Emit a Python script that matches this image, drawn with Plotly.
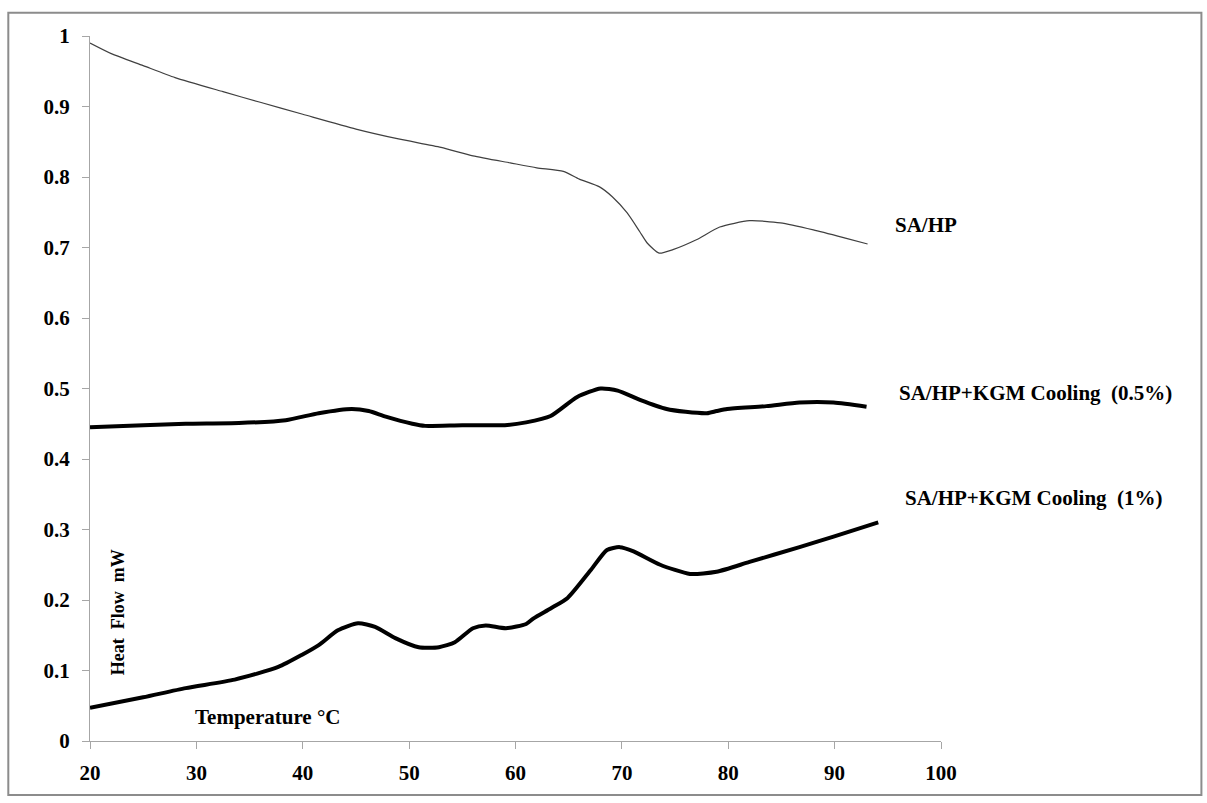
import plotly.graph_objects as go

# Temperature (°C) and heat flow (mW) for each DSC cooling run
temp_sahp = [20, 22, 25, 28, 32.5, 36, 40, 45, 49, 53, 56, 59.5, 62, 64.5, 66, 67.9,
             69.1, 70.5, 71.7, 72.4, 73.5, 74.8, 77, 79.2, 82, 84.9, 88, 91.1, 93.1]
flow_sahp = [0.990, 0.975, 0.958, 0.941, 0.921, 0.906, 0.889, 0.868, 0.854, 0.842, 0.830,
             0.820, 0.813, 0.808, 0.797, 0.786, 0.772, 0.749, 0.722, 0.706, 0.692, 0.697,
             0.711, 0.729, 0.738, 0.735, 0.725, 0.713, 0.705]

temp_kgm05 = [20, 25, 29, 34, 38.4, 41.5, 44.6, 46.2, 47.8, 50.3, 51.5, 55, 59, 61, 63.3,
              65.8, 68, 69.6, 71.7, 74.2, 76, 78, 78.9, 79.9, 83.6, 86.7, 89.9, 93]
flow_kgm05 = [0.445, 0.448, 0.450, 0.451, 0.455, 0.465, 0.471, 0.468, 0.460, 0.450, 0.447,
              0.448, 0.448, 0.452, 0.461, 0.488, 0.500, 0.497, 0.484, 0.471, 0.467, 0.465,
              0.468, 0.471, 0.475, 0.480, 0.480, 0.474]

temp_kgm1 = [20, 25, 29, 33.6, 37.7, 39.9, 41.5, 43.3, 45.2, 46.8, 48.7, 50.9, 52.8, 54.3,
             56, 57.2, 59.1, 61, 61.7, 63.3, 64.9, 67.1, 68.6, 69.8, 71.1, 73.6, 76.4, 78.9,
             82, 86.7, 89.9, 94.1]
flow_kgm1 = [0.047, 0.062, 0.075, 0.087, 0.105, 0.122, 0.136, 0.157, 0.167, 0.162, 0.146,
             0.133, 0.133, 0.140, 0.160, 0.164, 0.160, 0.166, 0.174, 0.188, 0.203, 0.243,
             0.271, 0.275, 0.269, 0.250, 0.237, 0.240, 0.254, 0.275, 0.290, 0.310]

x_ticks = [20, 30, 40, 50, 60, 70, 80, 90, 100]
y_ticks = [0, 0.1, 0.2, 0.3, 0.4, 0.5, 0.6, 0.7, 0.8, 0.9, 1]

SERIF = "Liberation Serif"
AXIS_GRAY = "#a6a6a6"

fig = go.Figure()
fig.add_trace(go.Scatter(x=temp_sahp, y=flow_sahp, mode="lines",
                         line=dict(color="#404040", width=1.2, shape="spline", smoothing=0.6)))
fig.add_trace(go.Scatter(x=temp_kgm05, y=flow_kgm05, mode="lines",
                         line=dict(color="#000000", width=4, shape="spline", smoothing=0.6)))
fig.add_trace(go.Scatter(x=temp_kgm1, y=flow_kgm1, mode="lines",
                         line=dict(color="#000000", width=4, shape="spline", smoothing=0.6)))

label_font = dict(family=SERIF, size=21, color="#000000", weight="bold")

annotations = [
    dict(x=95.5, y=0.732, text="SA/HP", xanchor="left", yanchor="middle"),
    dict(x=95.9, y=0.494, text="SA/HP+KGM Cooling\u00a0 (0.5%)", xanchor="left", yanchor="middle"),
    dict(x=96.4, y=0.345, text="SA/HP+KGM Cooling\u00a0 (1%)", xanchor="left", yanchor="middle"),
    dict(x=29.7, y=0.034, text="Temperature °C", xanchor="left", yanchor="middle"),
]
for a in annotations:
    fig.add_annotation(xref="x", yref="y", showarrow=False, font=label_font, **a)

fig.add_annotation(xref="x", yref="y", x=22.65, y=0.183, text="Heat\u00a0 Flow\u00a0 mW",
                   textangle=-90, showarrow=False, xanchor="center", yanchor="middle",
                   font=dict(family=SERIF, size=18, color="#000000", weight="bold"))

# Outer frame around the whole chart
fig.add_shape(type="rect", xref="paper", yref="paper",
              x0=-0.096, x1=1.306, y0=-0.0766, y1=1.033,
              line=dict(color="#8c8c8c", width=2), fillcolor="rgba(0,0,0,0)")

tick_font = dict(family=SERIF, size=21, color="#000000", weight="bold")

fig.update_layout(
    width=1207, height=803, autosize=False,
    margin=dict(l=90, r=266, t=36, b=62),
    paper_bgcolor="white", plot_bgcolor="white",
    showlegend=False,
    xaxis=dict(range=[20, 100], tickvals=x_ticks, ticks="outside", ticklen=7,
               tickcolor=AXIS_GRAY, showline=True, linecolor=AXIS_GRAY, linewidth=1,
               showgrid=False, zeroline=False, tickfont=tick_font, ticklabelstandoff=6),
    yaxis=dict(range=[0, 1], tickvals=y_ticks, ticks="outside", ticklen=7,
               tickcolor=AXIS_GRAY, showline=True, linecolor=AXIS_GRAY, linewidth=1,
               showgrid=False, zeroline=False, tickfont=tick_font, ticklabelstandoff=8),
)

fig.write_html("out.html")
